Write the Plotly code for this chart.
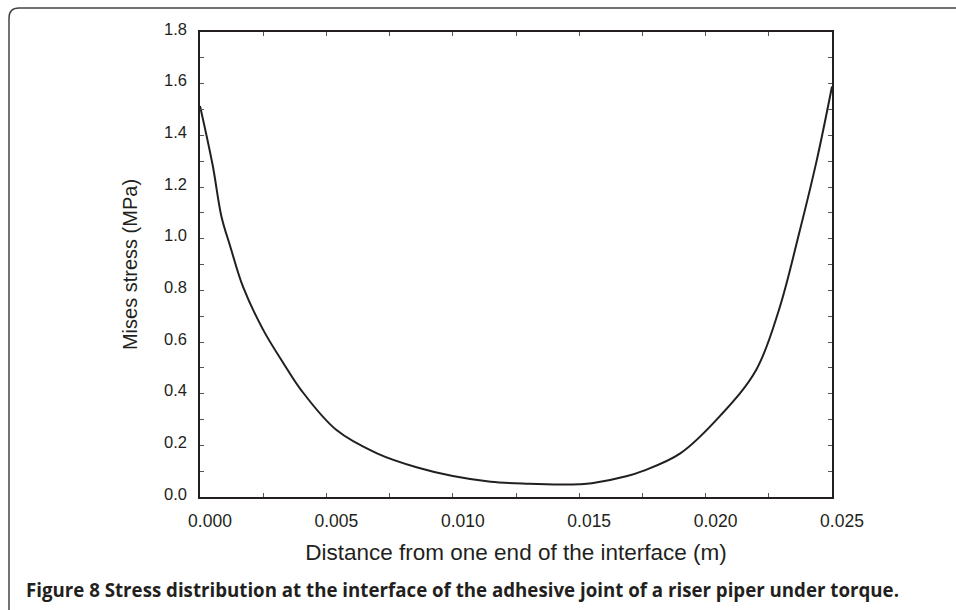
import plotly.graph_objects as go

# ---- data ----
distance_m = [0.0, 0.0005, 0.00085, 0.0012, 0.0017, 0.0025, 0.0033, 0.004, 0.0054,
              0.007, 0.0086, 0.010, 0.0115, 0.013, 0.0143, 0.015, 0.0155, 0.0169,
              0.0175, 0.019, 0.0206, 0.022, 0.0229, 0.0237, 0.0244, 0.025]
mises_mpa = [1.514, 1.285, 1.085, 0.969, 0.814, 0.647, 0.518, 0.414, 0.259,
             0.169, 0.114, 0.081, 0.059, 0.051, 0.048, 0.049, 0.053, 0.081,
             0.100, 0.169, 0.317, 0.492, 0.724, 1.021, 1.305, 1.589]

x_tickvals = [0.0, 0.0025, 0.005, 0.0075, 0.01, 0.0125, 0.015, 0.0175, 0.02, 0.0225, 0.025]
x_ticktext = ["0.000", "", "0.005", "", "0.010", "", "0.015", "", "0.020", "", "0.025"]
y_tickvals = [round(0.1 * i, 1) for i in range(19)]
y_ticktext = [f"{v:.1f}" if i % 2 == 0 else "" for i, v in enumerate(y_tickvals)]

x_title = "Distance from one end of the interface (m)"
y_title = "Mises stress (MPa)"
caption = ("<b>Figure 8 Stress distribution at the interface of the adhesive joint "
           "of a riser piper under torque.</b>")

W, H = 956, 610
L, R, T, B = 200, 124, 32, 113
PW, PH = W - L - R, H - T - B
INK = "#231f20"


def px(x):
    return (x - L) / PW


def py(y):
    return (H - B - y) / PH


fig = go.Figure()
fig.add_trace(go.Scatter(x=distance_m, y=mises_mpa, mode="lines",
                         line=dict(color=INK, width=2, shape="spline", smoothing=1.0),
                         showlegend=False, hoverinfo="skip"))

axis_common = dict(showline=True, linecolor=INK, linewidth=1.5, mirror="ticks",
                   ticks="inside", ticklen=4, tickcolor="#555555", tickwidth=1,
                   showgrid=False, zeroline=False)

fig.update_xaxes(range=[0, 0.025], tickmode="array", tickvals=x_tickvals, ticktext=x_ticktext,
                 ticklabelstandoff=7, ticklabelshift=10,
                 tickfont=dict(family="Liberation Sans, Arial", size=17.5, color=INK),
                 title=dict(text=x_title, standoff=14,
                            font=dict(family="Liberation Sans, Arial", size=22.5, color=INK)),
                 **axis_common)
fig.update_yaxes(range=[0, 1.8], tickmode="array", tickvals=y_tickvals, ticktext=y_ticktext,
                 ticklabelstandoff=8, ticklabelshift=-3,
                 tickfont=dict(family="Liberation Sans, Arial", size=16.5, color=INK),
                 title=dict(text=y_title, standoff=21,
                            font=dict(family="Liberation Sans, Arial", size=20, color=INK)),
                 **axis_common)

# rounded frame (top and left edges)
r = 10
x0, y0 = 9, 8
frame_path = (f"M {px(x0)},{py(H + 5)} L {px(x0)},{py(y0 + r)} "
              f"Q {px(x0)},{py(y0)} {px(x0 + r)},{py(y0)} L {px(W + 5)},{py(y0)}")

fig.update_layout(
    width=W, height=H,
    margin=dict(l=L, r=R, t=T, b=B),
    paper_bgcolor="white", plot_bgcolor="white",
    shapes=[dict(type="path", xref="paper", yref="paper", path=frame_path,
                 line=dict(color="#444444", width=1.5), layer="above")],
    annotations=[dict(text=caption, xref="paper", yref="paper", x=px(24), y=py(589),
                      xanchor="left", yanchor="middle", showarrow=False,
                      font=dict(family="Open Sans", size=18.7, color=INK))],
)

fig.write_html("out.html", config={"displayModeBar": False},
               post_script="document.body.style.margin='0';document.body.style.overflow='hidden';")
